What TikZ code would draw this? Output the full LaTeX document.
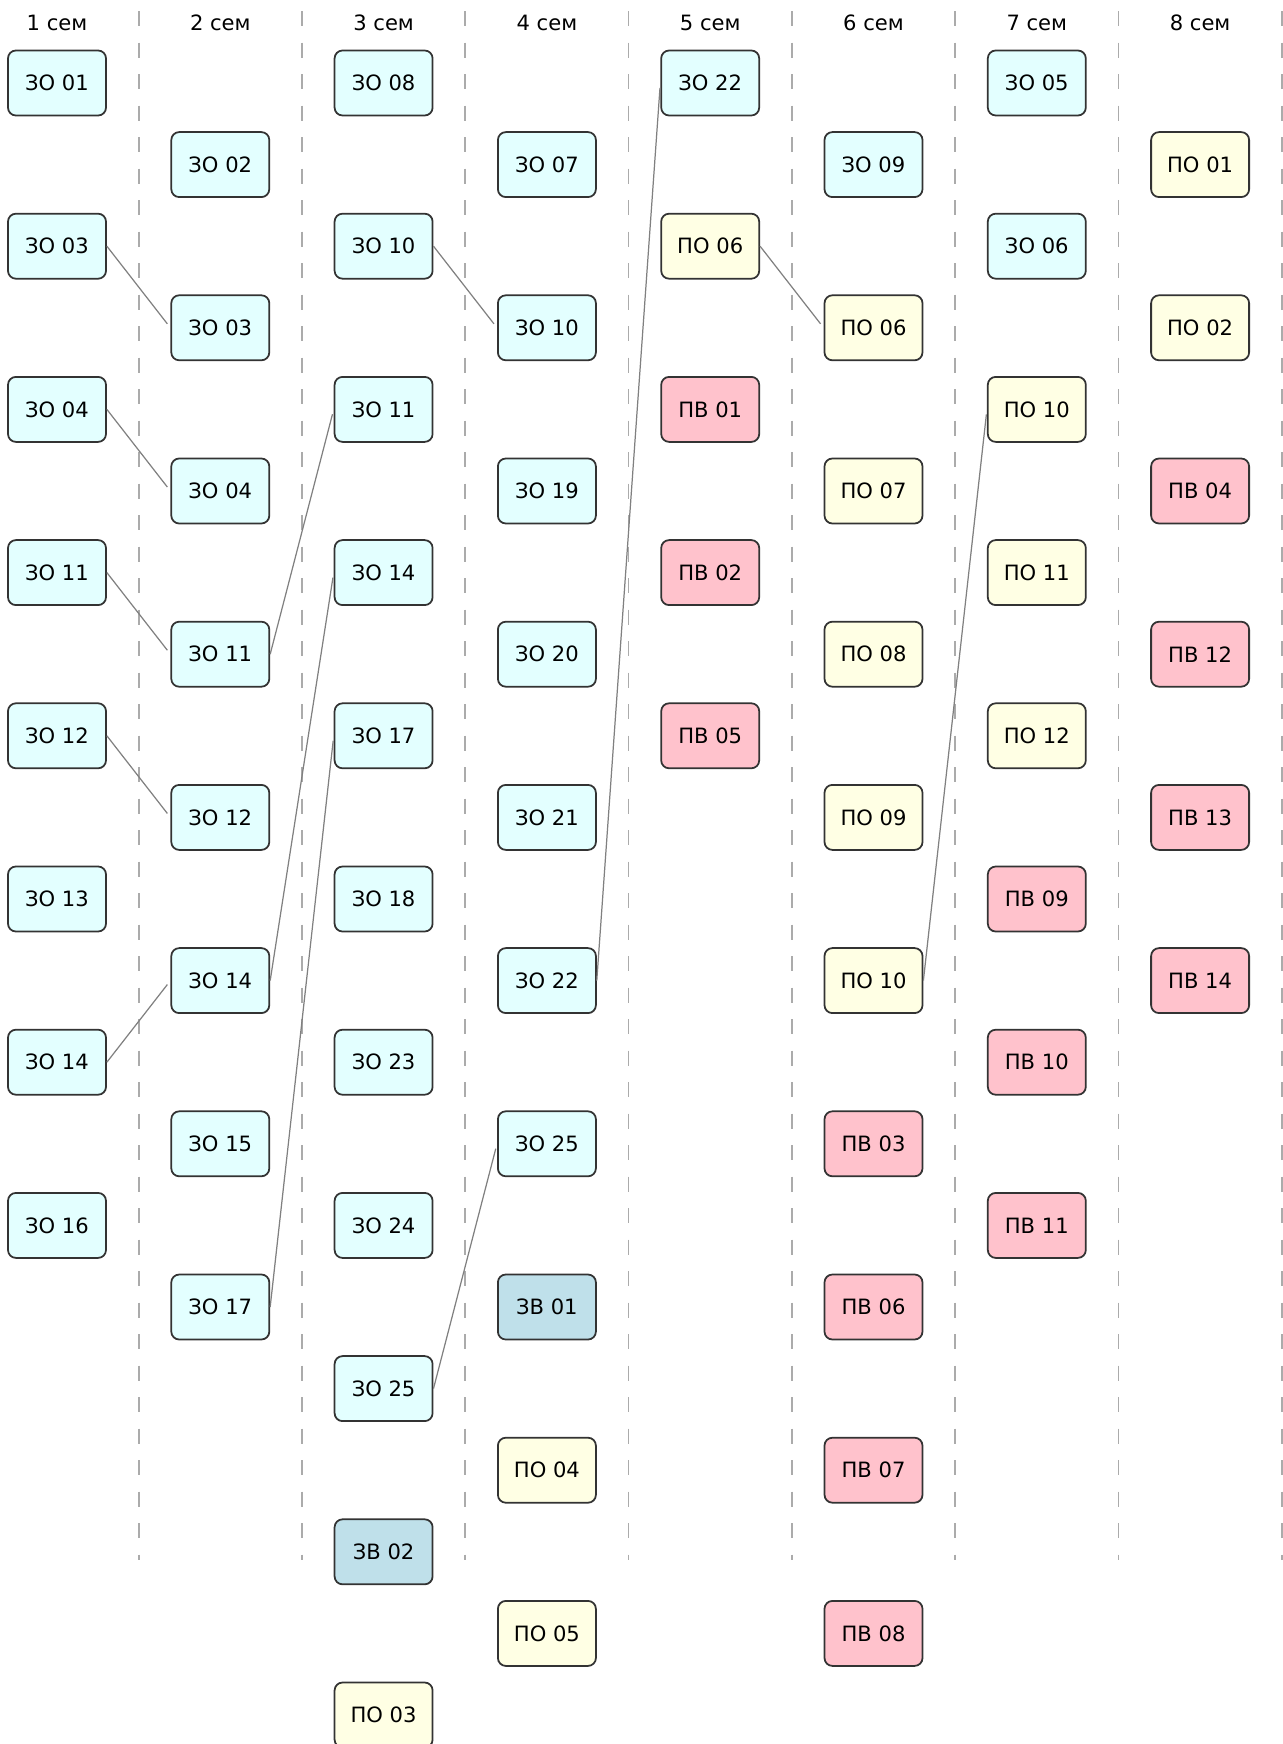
\documentclass[tikz,border=0pt]{standalone}
\usepackage{fontspec}
\setmainfont{DejaVu Sans}
\usepackage{tikz}
\definecolor{zocol}{HTML}{E3FFFF}
\definecolor{zvcol}{HTML}{BFE0EA}
\definecolor{pocol}{HTML}{FFFFE4}
\definecolor{pvcol}{HTML}{FFC2CC}
\definecolor{edgecol}{HTML}{333333}
\begin{document}
\begin{tikzpicture}[x=3.266cm,y=1.632cm,
  font=\fontsize{12}{14}\selectfont,
  box/.style={draw=edgecol,line width=1pt,rounded corners=4.5pt,
    minimum width=1.96cm,minimum height=1.3cm,inner sep=0pt},
  zo/.style={box,fill=zocol},
  zv/.style={box,fill=zvcol},
  po/.style={box,fill=pocol},
  pv/.style={box,fill=pvcol},
  link/.style={draw=gray,line width=0.7pt,shorten >=0.1cm},
  sep/.style={draw=black!33,line width=1pt,dash pattern=on 0.3cm off 0.33cm},
  head/.style={draw=none}]
\useasboundingbox (-1.14cm,1.66cm) rectangle (24.5cm,-33.22cm);
% semester separators
\foreach \k in {0,...,7}
  \draw[sep] (\k+0.5,0.88) -- (\k+0.5,-18.1);
% headers
\node[head] (h1) at (0,0.735) {1 сем};
\node[head] (h2) at (1,0.735) {2 сем};
\node[head] (h3) at (2,0.735) {3 сем};
\node[head] (h4) at (3,0.735) {4 сем};
\node[head] (h5) at (4,0.735) {5 сем};
\node[head] (h6) at (5,0.735) {6 сем};
\node[head] (h7) at (6,0.735) {7 сем};
\node[head] (h8) at (7,0.735) {8 сем};
% 1 sem
\node[zo] (s1zo01) at (0,0)   {ЗО 01};
\node[zo] (s1zo03) at (0,-2)  {ЗО 03};
\node[zo] (s1zo04) at (0,-4)  {ЗО 04};
\node[zo] (s1zo11) at (0,-6)  {ЗО 11};
\node[zo] (s1zo12) at (0,-8)  {ЗО 12};
\node[zo] (s1zo13) at (0,-10) {ЗО 13};
\node[zo] (s1zo14) at (0,-12) {ЗО 14};
\node[zo] (s1zo16) at (0,-14) {ЗО 16};
% 2 sem
\node[zo] (s2zo02) at (1,-1)  {ЗО 02};
\node[zo] (s2zo03) at (1,-3)  {ЗО 03};
\node[zo] (s2zo04) at (1,-5)  {ЗО 04};
\node[zo] (s2zo11) at (1,-7)  {ЗО 11};
\node[zo] (s2zo12) at (1,-9)  {ЗО 12};
\node[zo] (s2zo14) at (1,-11) {ЗО 14};
\node[zo] (s2zo15) at (1,-13) {ЗО 15};
\node[zo] (s2zo17) at (1,-15) {ЗО 17};
% 3 sem
\node[zo] (s3zo08) at (2,0)   {ЗО 08};
\node[zo] (s3zo10) at (2,-2)  {ЗО 10};
\node[zo] (s3zo11) at (2,-4)  {ЗО 11};
\node[zo] (s3zo14) at (2,-6)  {ЗО 14};
\node[zo] (s3zo17) at (2,-8)  {ЗО 17};
\node[zo] (s3zo18) at (2,-10) {ЗО 18};
\node[zo] (s3zo23) at (2,-12) {ЗО 23};
\node[zo] (s3zo24) at (2,-14) {ЗО 24};
\node[zo] (s3zo25) at (2,-16) {ЗО 25};
\node[zv] (s3zv02) at (2,-18) {ЗВ 02};
\node[po] (s3po03) at (2,-20) {ПО 03};
% 4 sem
\node[zo] (s4zo07) at (3,-1)  {ЗО 07};
\node[zo] (s4zo10) at (3,-3)  {ЗО 10};
\node[zo] (s4zo19) at (3,-5)  {ЗО 19};
\node[zo] (s4zo20) at (3,-7)  {ЗО 20};
\node[zo] (s4zo21) at (3,-9)  {ЗО 21};
\node[zo] (s4zo22) at (3,-11) {ЗО 22};
\node[zo] (s4zo25) at (3,-13) {ЗО 25};
\node[zv] (s4zv01) at (3,-15) {ЗВ 01};
\node[po] (s4po04) at (3,-17) {ПО 04};
\node[po] (s4po05) at (3,-19) {ПО 05};
% 5 sem
\node[zo] (s5zo22) at (4,0)   {ЗО 22};
\node[po] (s5po06) at (4,-2)  {ПО 06};
\node[pv] (s5pv01) at (4,-4)  {ПВ 01};
\node[pv] (s5pv02) at (4,-6)  {ПВ 02};
\node[pv] (s5pv05) at (4,-8)  {ПВ 05};
% 6 sem
\node[zo] (s6zo09) at (5,-1)  {ЗО 09};
\node[po] (s6po06) at (5,-3)  {ПО 06};
\node[po] (s6po07) at (5,-5)  {ПО 07};
\node[po] (s6po08) at (5,-7)  {ПО 08};
\node[po] (s6po09) at (5,-9)  {ПО 09};
\node[po] (s6po10) at (5,-11) {ПО 10};
\node[pv] (s6pv03) at (5,-13) {ПВ 03};
\node[pv] (s6pv06) at (5,-15) {ПВ 06};
\node[pv] (s6pv07) at (5,-17) {ПВ 07};
\node[pv] (s6pv08) at (5,-19) {ПВ 08};
% 7 sem
\node[zo] (s7zo05) at (6,0)   {ЗО 05};
\node[zo] (s7zo06) at (6,-2)  {ЗО 06};
\node[po] (s7po10) at (6,-4)  {ПО 10};
\node[po] (s7po11) at (6,-6)  {ПО 11};
\node[po] (s7po12) at (6,-8)  {ПО 12};
\node[pv] (s7pv09) at (6,-10) {ПВ 09};
\node[pv] (s7pv10) at (6,-12) {ПВ 10};
\node[pv] (s7pv11) at (6,-14) {ПВ 11};
% 8 sem
\node[po] (s8po01) at (7,-1)  {ПО 01};
\node[po] (s8po02) at (7,-3)  {ПО 02};
\node[pv] (s8pv04) at (7,-5)  {ПВ 04};
\node[pv] (s8pv12) at (7,-7)  {ПВ 12};
\node[pv] (s8pv13) at (7,-9)  {ПВ 13};
\node[pv] (s8pv14) at (7,-11) {ПВ 14};
% continuing disciplines
\draw[link] (s1zo03.east) -- (s2zo03.west);
\draw[link] (s1zo04.east) -- (s2zo04.west);
\draw[link] (s1zo11.east) -- (s2zo11.west);
\draw[link] (s1zo12.east) -- (s2zo12.west);
\draw[link] (s1zo14.east) -- (s2zo14.west);
\draw[link] (s2zo11.east) -- (s3zo11.west);
\draw[link] (s2zo14.east) -- (s3zo14.west);
\draw[link] (s2zo17.east) -- (s3zo17.west);
\draw[link] (s3zo10.east) -- (s4zo10.west);
\draw[link] (s3zo25.east) -- (s4zo25.west);
\draw[link] (s4zo22.east) -- (s5zo22.west);
\draw[link] (s5po06.east) -- (s6po06.west);
\draw[link] (s6po10.east) -- (s7po10.west);
\end{tikzpicture}
\end{document}
